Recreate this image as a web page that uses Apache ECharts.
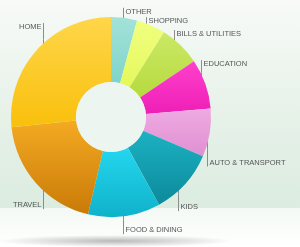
<!DOCTYPE html>
<html>
<head>
<meta charset="utf-8">
<script src="https://cdn.jsdelivr.net/npm/echarts@6/dist/echarts.min.js"></script>
<style>
  html, body { margin: 0; padding: 0; }
  #chart {
    width: 300px; height: 247px;
    background:
      radial-gradient(ellipse 118px 6px at 115px 241px, rgba(140,140,140,0.6), rgba(150,150,150,0) 100%),
      linear-gradient(to bottom, #f4f9f5 0px, #ffffff 40px) 0 208px / 300px 39px no-repeat,
      linear-gradient(to bottom, #f7faf7 0px, #e6f1e8 120px, #dcece0 208px) 0 0 / 300px 208px no-repeat;
  }
</style>
</head>
<body>
<div id="chart"></div>
<script>
// spending categories, clockwise from 12 o'clock
const categories = ['OTHER', 'SHOPPING', 'BILLS & UTILITIES', 'EDUCATION', 'AUTO & TRANSPORT', 'KIDS', 'FOOD & DINING', 'TRAVEL', 'HOME'];
const shares = [4.2, 4.7, 6.7, 8.1, 7.8, 10.6, 11.7, 19.7, 26.7];

const colorsTop = ['#a3e2d9', '#f0ff80', '#cbe966', '#ff40cc', '#efabe2', '#1cb2c3', '#24d6ee', '#f4aa22', '#ffd64a'];
const colorsBottom = ['#80d4c9', '#e4f85c', '#b6da3e', '#ee1fb6', '#df8fd2', '#0c8a9a', '#0fb2ca', '#c97a08', '#f9c00c'];

// leader line length per label (px)
const leadLen = [22, 19, 22, 25, 34, 33, 30, 32, 33];

const cx = 111, cy = 117;
const total = shares.reduce((a, b) => a + b, 0);

var myChart = echarts.init(document.getElementById('chart'));

const pieData = categories.map((name, i) => ({
  name: name,
  value: shares[i],
  itemStyle: {
    color: new echarts.graphic.LinearGradient(0, 0, 0, 1, [
      { offset: 0, color: colorsTop[i] },
      { offset: 1, color: colorsBottom[i] }
    ])
  }
}));

myChart.setOption({
  series: [
    {
      type: 'pie',
      center: [cx, cy],
      radius: [35, 100],
      startAngle: 90,
      clockwise: true,
      avoidLabelOverlap: false,
      animation: false,
      data: pieData,
      label: {
        show: true,
        position: 'outside',
        color: '#555',
        fontSize: 7.5,
        fontFamily: 'Liberation Sans, Arial, sans-serif',
        formatter: '{b}'
      },
      labelLine: {
        show: true,
        length: 5,
        length2: 5,
        lineStyle: { color: '#8c8c8c', width: 1 }
      },
      labelLayout: function (params) {
        const i = params.dataIndex;
        let before = 0;
        for (let k = 0; k < i; k++) before += shares[k];
        const mid = (before + shares[i] / 2) / total * Math.PI * 2;
        const s = Math.sin(mid), c = Math.cos(mid);
        const r = 88 + 10 * Math.pow(Math.abs(s), 4);
        const x = Math.round(cx + r * s) + 0.5;
        const y0 = cy - r * c;
        const up = c > 0;
        const y1 = up ? y0 - leadLen[i] : y0 + leadLen[i];
        const right = s > 0;
        return {
          x: right ? x + 2 : x - 2,
          y: up ? y1 + 4 : y1 - 4,
          align: right ? 'left' : 'right',
          verticalAlign: 'middle',
          labelLinePoints: [[x, y0], [x, (y0 + y1) / 2], [x, y1]]
        };
      }
    },
    {
      type: 'pie',
      center: [cx, cy],
      radius: [0, 35],
      silent: true,
      animation: false,
      label: { show: false },
      labelLine: { show: false },
      data: [{ value: 1, name: '', itemStyle: { color: '#edf5f0' } }]
    }
  ]
});
window.onresize = function () {
  myChart.resize();
};
</script>
</body>
</html>
